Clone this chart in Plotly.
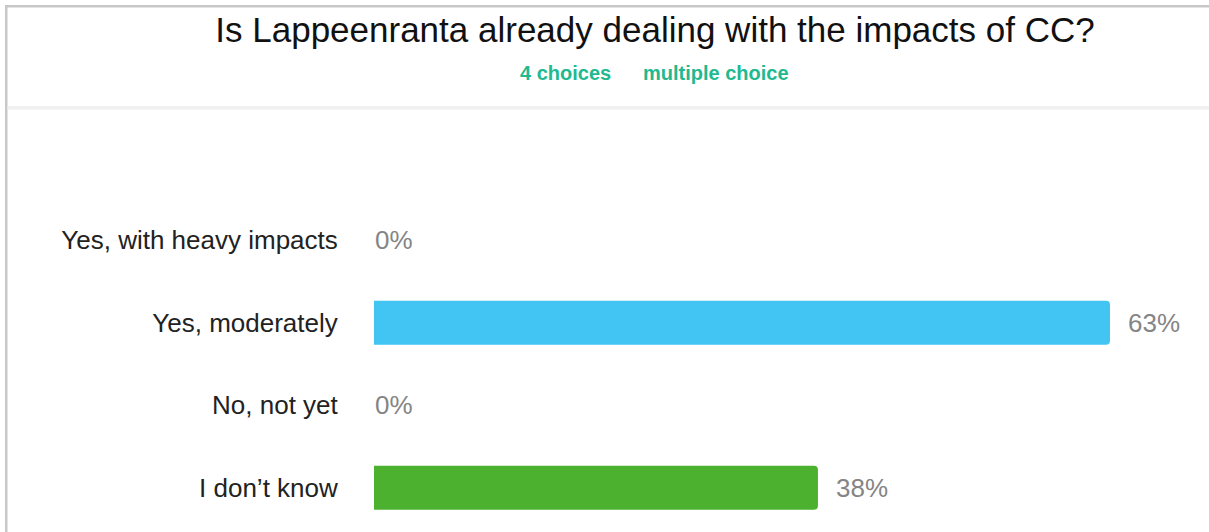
import plotly.graph_objects as go

categories = ["Yes, with heavy impacts", "Yes, moderately", "No, not yet", "I don\u2019t know"]
values = [0, 63, 0, 38]
value_labels = ["0%", "63%", "0%", "38%"]
bar_colors = ["#42C5F3", "#42C5F3", "#4CB12F", "#4CB12F"]

title_text = "Is Lappeenranta already dealing with the impacts of CC?"
sub_left = "4 choices"
sub_right = "multiple choice"

W, H = 1209, 532
L, R, T, B = 374, 0, 199, 3
pw, ph = W - L - R, H - T - B

def px(x):
    return (x - L) / pw

def py(y):
    return (H - B - y) / ph

FONT = "Arial, 'Liberation Sans', sans-serif"

fig = go.Figure(go.Bar(
    x=values, y=categories, orientation="h",
    marker=dict(color=bar_colors, cornerradius=4, line=dict(width=0)),
    hoverinfo="skip",
))

annotations = []
for c, v, t in zip(categories, values, value_labels):
    annotations.append(dict(x=v, y=c, xref="x", yref="y", text=t, showarrow=False,
                            xanchor="left", yanchor="middle", xshift=16 if v > 0 else -1,
                            font=dict(family=FONT, size=26, color="#858585")))

annotations += [
    dict(x=px(565), y=py(73), xref="paper", yref="paper", text="<b>%s</b>" % sub_left,
         showarrow=False, xanchor="center", yanchor="middle",
         font=dict(family=FONT, size=20, color="#22B98F")),
    dict(x=px(716), y=py(73), xref="paper", yref="paper", text="<b>%s</b>" % sub_right,
         showarrow=False, xanchor="center", yanchor="middle",
         font=dict(family=FONT, size=20, color="#22B98F")),
]

shapes = [
    dict(type="rect", xref="paper", yref="paper", x0=px(5), x1=px(1212), y0=py(5), y1=py(7.5),
         fillcolor="#C8C8C8", line=dict(width=0), layer="above"),
    dict(type="rect", xref="paper", yref="paper", x0=px(5), x1=px(7.5), y0=py(5), y1=py(535),
         fillcolor="#C8C8C8", line=dict(width=0), layer="above"),
    dict(type="rect", xref="paper", yref="paper", x0=px(7.5), x1=px(1212), y0=py(106), y1=py(109.5),
         fillcolor="#F0F0F0", line=dict(width=0), layer="above"),
]

fig.update_layout(
    width=W, height=H,
    margin=dict(l=L, r=R, t=T, b=B, autoexpand=False),
    paper_bgcolor="white", plot_bgcolor="white",
    showlegend=False,
    bargap=0.468,
    title=dict(text=title_text, x=655 / W, xref="container", xanchor="center",
               y=1 - 30 / H, yref="container", yanchor="middle",
               font=dict(family=FONT, size=35, color="#111111")),
    xaxis=dict(range=[0, pw / (736 / 63)], visible=False, fixedrange=True),
    yaxis=dict(autorange="reversed", showgrid=False, zeroline=False, showline=False,
               ticks="outside", ticklen=30, tickcolor="rgba(0,0,0,0)",
               tickfont=dict(family=FONT, size=26, color="#222222"), automargin=False,
               fixedrange=True),
    annotations=annotations,
    shapes=shapes,
)

fig.write_html("out.html", config={"displayModeBar": False})
